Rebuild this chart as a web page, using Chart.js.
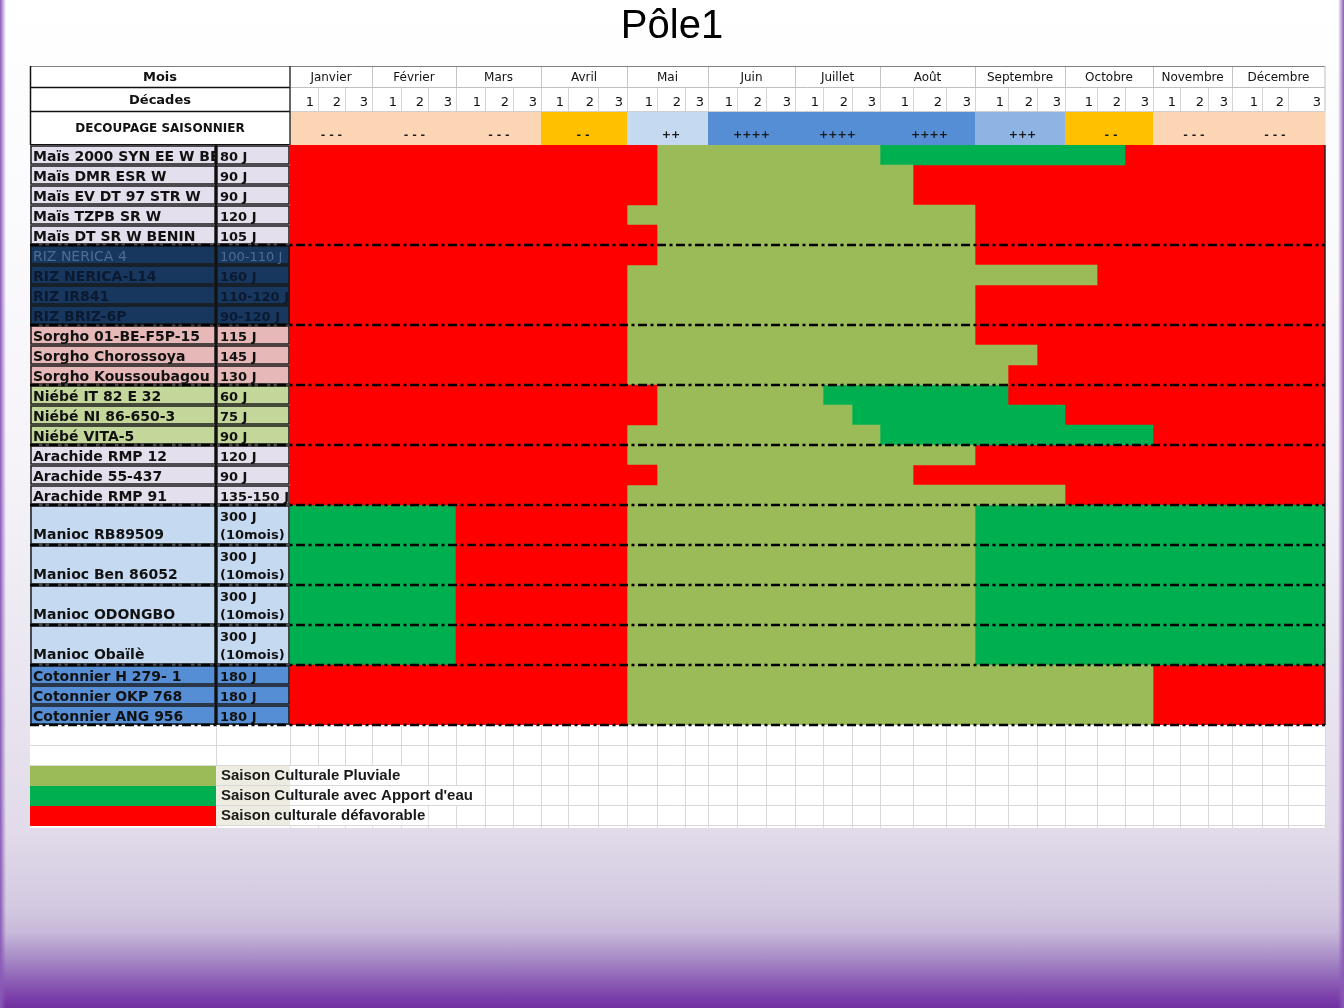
<!DOCTYPE html>
<html lang="fr">
<head>
<meta charset="utf-8">
<title>Pôle1</title>
<script src="https://cdn.jsdelivr.net/npm/chart.js@4.4.1/dist/chart.umd.min.js"></script>
<style>
  html, body { margin: 0; padding: 0; }
  body {
    width: 1344px; height: 1008px; overflow: hidden; position: relative;
    background: linear-gradient(to bottom, #ffffff 0%, #f6f4f9 45%, #e2dcea 82%, #d3c9e1 90%, #c7b9da 92.5%, #a283c3 95.5%, #7a3ea9 99%, #7030a0 100%);
  }
  .edge { position: absolute; top: 0; bottom: 0; width: 6px; }
  .edge.left { left: 0; background: linear-gradient(to right, #8a5ab8, rgba(138, 90, 184, 0)); }
  .edge.right { right: 0; background: linear-gradient(to left, #8a5ab8, rgba(138, 90, 184, 0)); }
  canvas { position: absolute; left: 0; top: 0; }
</style>
</head>
<body>
<div class="edge left"></div><div class="edge right"></div>
<canvas id="calendrier" width="1344" height="1008"></canvas>
<script>
// ---- données ----
const title = 'Pôle1';
const headerLabels = ['Mois', 'Décades', 'DECOUPAGE SAISONNIER'];
const months = ['Janvier', 'Février', 'Mars', 'Avril', 'Mai', 'Juin', 'Juillet', 'Août', 'Septembre', 'Octobre', 'Novembre', 'Décembre'];
const decades = ['1', '2', '3'];
const seasonCodes = ['- - -', '- - -', '- - -', '- -', '++', '++++', '++++', '++++', '+++', '- -', '- - -', '- - -'];

const crops = [
    'Maïs 2000 SYN EE W BEN', 'Maïs DMR ESR W', 'Maïs EV DT 97 STR W', 'Maïs TZPB SR W', 'Maïs DT SR W BENIN',
    'RIZ NERICA 4', 'RIZ NERICA-L14', 'RIZ IR841', 'RIZ BRIZ-6P',
    'Sorgho 01-BE-F5P-15', 'Sorgho Chorossoya', 'Sorgho Koussoubagou',
    'Niébé IT 82 E 32', 'Niébé NI 86-650-3', 'Niébé VITA-5',
    'Arachide RMP 12', 'Arachide 55-437', 'Arachide RMP 91',
    'Manioc RB89509', 'Manioc Ben 86052', 'Manioc ODONGBO', 'Manioc Obaïlè',
    'Cotonnier H 279- 1', 'Cotonnier OKP 768', 'Cotonnier ANG 956'
];
const cycles = [
    '80 J', '90 J', '90 J', '120 J', '105 J',
    '100-110 J', '160 J', '110-120 J', '90-120 J',
    '115 J', '145 J', '130 J',
    '60 J', '75 J', '90 J',
    '120 J', '90 J', '135-150 J',
    '300 J\n(10mois)', '300 J\n(10mois)', '300 J\n(10mois)', '300 J\n(10mois)',
    '180 J', '180 J', '180 J'
];
// nombre de variétés par culture (Maïs, Riz, Sorgho, Niébé, Arachide, Manioc, Cotonnier)
const groupSizes = [5, 4, 3, 3, 3, 4, 3];

// périodes en décades : 0 = début janvier, 36 = fin décembre
const defavorableDebut = [
    [0, 13], [0, 13], [0, 13], [0, 12], [0, 13],
    [0, 13], [0, 12], [0, 12], [0, 12],
    [0, 12], [0, 12], [0, 12],
    [0, 13], [0, 13], [0, 12],
    [0, 12], [0, 13], [0, 12],
    [6, 12], [6, 12], [6, 12], [6, 12],
    [0, 12], [0, 12], [0, 12]
];
const pluviale = [
    [13, 21], [13, 22], [13, 22], [12, 24], [13, 24],
    [13, 24], [12, 28], [12, 24], [12, 24],
    [12, 24], [12, 26], [12, 25],
    [13, 19], [13, 20], [12, 21],
    [12, 24], [13, 22], [12, 27],
    [12, 24], [12, 24], [12, 24], [12, 24],
    [12, 30], [12, 30], [12, 30]
];
const apportDebut = [
    null, null, null, null, null,
    null, null, null, null,
    null, null, null,
    null, null, null,
    null, null, null,
    [0, 6], [0, 6], [0, 6], [0, 6],
    null, null, null
];
const apportFin = [
    [21, 29], null, null, null, null,
    null, null, null, null,
    null, null, null,
    [19, 25], [20, 27], [21, 30],
    null, null, null,
    [24, 36], [24, 36], [24, 36], [24, 36],
    null, null, null
];
const defavorableFin = [
    [29, 36], [22, 36], [22, 36], [24, 36], [24, 36],
    [24, 36], [28, 36], [24, 36], [24, 36],
    [24, 36], [26, 36], [25, 36],
    [25, 36], [27, 36], [30, 36],
    [24, 36], [22, 36], [27, 36],
    null, null, null, null,
    [30, 36], [30, 36], [30, 36]
];
const legendLabels = ['Saison Culturale Pluviale', "Saison Culturale avec Apport d'eau", 'Saison culturale défavorable'];

// ---- styles ----
const COLORS = { pluviale: '#9BBB59', apport: '#00B050', defavorable: '#FF0000' };
const SEASON_COLORS = { '- - -': '#FCD5B4', '- -': '#FFC000', '++': '#C5D9F1', '++++': '#558ED5', '+++': '#8DB4E2' };
const GROUP_STYLES = [
    { bg: '#E4DFEC', text: '#111111', span: 1 },  // Maïs
    { bg: '#17375E', text: '#0B1A30', span: 1 },  // Riz
    { bg: '#E6B8B7', text: '#111111', span: 1 },  // Sorgho
    { bg: '#C4D79B', text: '#111111', span: 1 },  // Niébé
    { bg: '#E4DFEC', text: '#111111', span: 1 },  // Arachide
    { bg: '#C5D9F1', text: '#111111', span: 2 },  // Manioc (lignes doubles)
    { bg: '#558ED5', text: '#111111', span: 1 }   // Cotonnier
];
const FAINT_CROPS = ['RIZ NERICA 4'];
// largeurs relatives des colonnes de décades (comme dans la feuille Excel)
const DECADE_WIDTHS = [28, 27, 27, 29, 27, 28, 29, 28, 28, 27, 30, 29, 30, 28, 23, 29, 29, 29,
                       28, 29, 28, 33, 33, 29, 33, 29, 28, 32, 28, 28, 27, 28, 24, 30, 26, 37];
const GRID = { left: 30, nameRight: 216, moisTop: 66, decTop: 87, seasonTop: 111, rowH: 20, blankRows: 2, tableBottom: 828 };
const FONT = '"DejaVu Sans", Verdana, sans-serif';
const LEG_FONT = '"Liberation Sans", Arial, sans-serif';

// échelle linéaire dont les décades ont la largeur des colonnes
class DecadeScale extends Chart.LinearScale {
    static id = 'decade';
    static defaults = Chart.LinearScale.defaults;
    cumul() {
        if (!this._cumul) {
            const total = DECADE_WIDTHS.reduce((a, b) => a + b, 0);
            let acc = 0;
            this._cumul = [0].concat(DECADE_WIDTHS.map(w => (acc += w) / total));
        }
        return this._cumul;
    }
    getPixelForValue(value) {
        const c = this.cumul();
        const v = Math.max(0, Math.min(DECADE_WIDTHS.length, value));
        const i = Math.min(Math.floor(v), DECADE_WIDTHS.length - 1);
        return this.left + (c[i] + (v - i) * (c[i + 1] - c[i])) * this.width;
    }
    getValueForPixel(pixel) {
        const c = this.cumul();
        const f = (pixel - this.left) / this.width;
        for (let i = 0; i < DECADE_WIDTHS.length; i++) {
            if (f <= c[i + 1]) return i + (f - c[i]) / (c[i + 1] - c[i]);
        }
        return DECADE_WIDTHS.length;
    }
}
Chart.register(DecadeScale);

// chaque variété occupe une ou deux "cases" sur l'axe des catégories
const cropGroup = [];
groupSizes.forEach((n, g) => { for (let k = 0; k < n; k++) cropGroup.push(g); });
const slotCrop = [];
crops.forEach((c, i) => {
    for (let k = 0; k < GROUP_STYLES[cropGroup[i]].span; k++) slotCrop.push(i);
});
const expand = arr => slotCrop.map(i => arr[i]);

function hLine(ctx, x1, x2, y, color, w) {
    ctx.strokeStyle = color; ctx.lineWidth = w || 1;
    ctx.beginPath(); ctx.moveTo(x1, y); ctx.lineTo(x2, y); ctx.stroke();
}
function vLine(ctx, x, y1, y2, color, w) {
    ctx.strokeStyle = color; ctx.lineWidth = w || 1;
    ctx.beginPath(); ctx.moveTo(x, y1); ctx.lineTo(x, y2); ctx.stroke();
}
function clipText(ctx, text, tx, ty, x0, x1, y0, y1) {
    ctx.save();
    ctx.beginPath(); ctx.rect(x0, y0, x1 - x0, y1 - y0); ctx.clip();
    ctx.fillText(text, tx, ty);
    ctx.restore();
}
function cropRows(chart) {
    const ca = chart.chartArea;
    const slotH = (ca.bottom - ca.top) / slotCrop.length;
    const rows = [];
    let s = 0;
    crops.forEach((c, i) => {
        const span = GROUP_STYLES[cropGroup[i]].span;
        rows.push({ top: ca.top + s * slotH, bottom: ca.top + (s + span) * slotH, span });
        s += span;
    });
    return rows;
}

const tablePlugin = {
    id: 'tableauSaisonnier',
    beforeDraw(chart) {
        const { ctx, chartArea: ca, scales: { x } } = chart;
        const L = GRID.left, NR = GRID.nameRight, CR = ca.left, R = ca.right;
        ctx.save();

        // titre
        ctx.fillStyle = '#000';
        ctx.font = '40px ' + LEG_FONT;
        ctx.textAlign = 'center';
        ctx.textBaseline = 'alphabetic';
        ctx.fillText(title, 672, 38);

        // fond du tableau
        ctx.fillStyle = '#fff';
        ctx.fillRect(L, GRID.moisTop, R - L, GRID.tableBottom - GRID.moisTop);

        // ligne "découpage saisonnier"
        months.forEach((m, i) => {
            const x0 = x.getPixelForValue(i * 3), x1 = x.getPixelForValue(i * 3 + 3);
            ctx.fillStyle = SEASON_COLORS[seasonCodes[i]];
            ctx.fillRect(x0, GRID.seasonTop, x1 - x0 + 0.5, ca.top - GRID.seasonTop);
        });
        ctx.fillStyle = '#1a1a1a';
        ctx.font = 'bold 11px ' + FONT;
        ctx.textAlign = 'center';
        ctx.textBaseline = 'middle';
        months.forEach((m, i) => {
            ctx.fillText(seasonCodes[i], x.getPixelForValue(i * 3 + 1.5), 135);
        });

        // mois et décades
        for (let d = 1; d < 36; d++) {
            const px = Math.round(x.getPixelForValue(d)) + 0.5;
            vLine(ctx, px, GRID.decTop, GRID.seasonTop, '#d4d4d4');
            if (d % 3 === 0) vLine(ctx, px, GRID.moisTop, GRID.decTop, '#c4c4c4');
        }
        ctx.fillStyle = '#111';
        ctx.font = '12px ' + FONT;
        ctx.textBaseline = 'alphabetic';
        months.forEach((m, i) => {
            ctx.fillText(m, (x.getPixelForValue(i * 3) + x.getPixelForValue(i * 3 + 3)) / 2, 81);
        });
        ctx.font = '13px ' + FONT;
        ctx.textAlign = 'right';
        for (let d = 0; d < 36; d++) {
            ctx.fillText(decades[d % 3], x.getPixelForValue(d + 1) - 4, 106);
        }
        hLine(ctx, L, R, GRID.moisTop + 0.5, '#7f7f7f');
        hLine(ctx, CR, R, GRID.decTop + 0.5, '#bfbfbf');
        hLine(ctx, CR, R, GRID.seasonTop + 0.5, '#d0d0d0');
        hLine(ctx, L, CR, GRID.decTop + 0.5, '#111', 1.5);
        hLine(ctx, L, CR, GRID.seasonTop + 0.5, '#111', 1.5);
        hLine(ctx, L, CR, ca.top, '#111', 2);
        vLine(ctx, L + 0.5, GRID.moisTop, ca.top, '#111', 1.5);
        vLine(ctx, CR, GRID.moisTop, ca.top, '#333', 1.5);
        vLine(ctx, R, GRID.moisTop, GRID.seasonTop, '#bfbfbf');

        ctx.fillStyle = '#111';
        ctx.textAlign = 'center';
        ctx.font = 'bold 13px ' + FONT;
        ctx.fillText(headerLabels[0], (L + CR) / 2, 81);
        ctx.fillText(headerLabels[1], (L + CR) / 2, 104);
        ctx.font = 'bold 12px ' + FONT;
        ctx.fillText(headerLabels[2], (L + CR) / 2, 132);

        // colonnes variétés / cycle
        const rows = cropRows(chart);
        ctx.textAlign = 'left';
        ctx.textBaseline = 'alphabetic';
        rows.forEach((r, i) => {
            const st = GROUP_STYLES[cropGroup[i]];
            ctx.fillStyle = st.bg;
            ctx.fillRect(L, r.top, CR - L, r.bottom - r.top);
            ctx.strokeStyle = '#1a1a1a';
            ctx.lineWidth = 1.5;
            ctx.strokeRect(L + 1, r.top + 1, NR - L - 2, r.bottom - r.top - 2);
            ctx.strokeRect(NR + 1, r.top + 1, CR - NR - 2, r.bottom - r.top - 2);
            const faint = FAINT_CROPS.includes(crops[i]);
            ctx.fillStyle = faint ? '#4d6c96' : st.text;
            const weight = faint ? '' : 'bold ';
            const base = r.bottom - (r.span > 1 ? 6 : 4);
            ctx.font = weight + '14px ' + FONT;
            clipText(ctx, crops[i], L + 3, base, L, NR - 1, r.top, r.bottom);
            ctx.font = weight + '13px ' + FONT;
            const lines = cycles[i].split('\n');
            lines.forEach((t, k) => {
                clipText(ctx, t, NR + 4, base - 18 * (lines.length - 1 - k), NR, CR, r.top, r.bottom);
            });
        });
        vLine(ctx, NR, ca.top, ca.bottom, '#111', 2);

        // lignes vides + légende
        const gridTop = ca.bottom;
        for (let d = 0; d <= 36; d++) {
            vLine(ctx, Math.round(x.getPixelForValue(d)) + 0.5, gridTop, GRID.tableBottom, '#d9d9d9');
        }
        vLine(ctx, NR + 0.5, gridTop, GRID.tableBottom, '#d9d9d9');
        for (let yy = gridTop + GRID.rowH; yy < GRID.tableBottom; yy += GRID.rowH) {
            hLine(ctx, L, R, yy + 0.5, '#d9d9d9');
        }
        const legendColors = [COLORS.pluviale, COLORS.apport, COLORS.defavorable];
        ctx.font = 'bold 15px ' + LEG_FONT;
        legendLabels.forEach((lab, k) => {
            const top = gridTop + (GRID.blankRows + k) * GRID.rowH;
            ctx.fillStyle = legendColors[k];
            ctx.fillRect(L, top + 1, NR - L, GRID.rowH);
            ctx.fillStyle = '#EEECE1';
            ctx.fillRect(NR, top + 1, CR - NR, GRID.rowH - 1);
            const w = ctx.measureText(lab).width;
            ctx.fillStyle = '#fff';
            ctx.fillRect(CR, top + 1, NR + 5 + w - CR + 3, GRID.rowH - 1);
            ctx.fillStyle = '#1a1a1a';
            ctx.fillText(lab, NR + 5, top + 15);
        });
        ctx.restore();
    },
    afterDatasetsDraw(chart) {
        const { ctx, chartArea: ca } = chart;
        const rows = cropRows(chart);
        ctx.save();
        vLine(ctx, ca.right, ca.top, ca.bottom, '#222', 1.5);
        ctx.setLineDash([9, 3.5, 3, 3.5]);
        rows.forEach((r, i) => {
            const lastInGroup = i === rows.length - 1 || cropGroup[i + 1] !== cropGroup[i];
            if (lastInGroup || r.span > 1) hLine(ctx, GRID.left, ca.right, r.bottom, '#000', 2.5);
        });
        ctx.restore();
    }
};

const series = [
    { label: legendLabels[2], data: defavorableDebut, color: COLORS.defavorable },
    { label: legendLabels[1], data: apportDebut, color: COLORS.apport },
    { label: legendLabels[0], data: pluviale, color: COLORS.pluviale },
    { label: legendLabels[1], data: apportFin, color: COLORS.apport },
    { label: legendLabels[2], data: defavorableFin, color: COLORS.defavorable }
];

new Chart(document.getElementById('calendrier'), {
    type: 'bar',
    data: {
        labels: expand(crops),
        datasets: series.map(s => ({
            label: s.label,
            data: expand(s.data),
            backgroundColor: s.color,
            borderWidth: 0,
            categoryPercentage: 1,
            barPercentage: 1
        }))
    },
    options: {
        indexAxis: 'y',
        responsive: false,
        animation: false,
        layout: { padding: { left: 290, right: 19, top: 145, bottom: 283 } },
        scales: {
            x: { type: 'decade', min: 0, max: 36, display: false },
            y: { display: false, stacked: true }
        },
        plugins: {
            legend: { display: false },
            title: { display: false },
            tooltip: { enabled: false }
        }
    },
    plugins: [tablePlugin]
});
</script>
</body>
</html>
